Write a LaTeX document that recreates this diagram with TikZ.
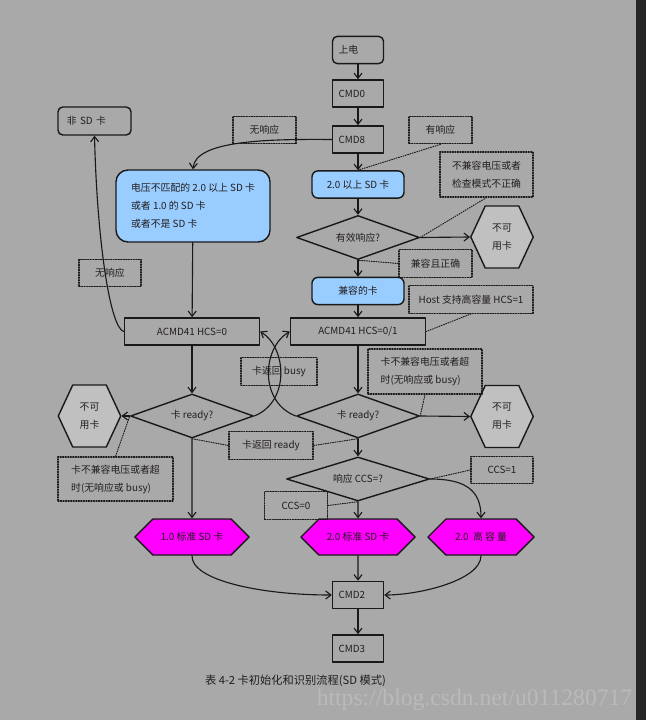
\documentclass[tikz,border=0pt]{standalone}
\usepackage{fontspec}
\setmainfont{Noto Sans CJK SC}
\newfontfamily\wmfont{Liberation Serif}
\usetikzlibrary{shapes.geometric,shapes.symbols,arrows.meta}

\definecolor{fondogris}{RGB}{169,169,169}
\definecolor{bordeoscuro}{RGB}{38,38,38}
\definecolor{trazo}{RGB}{25,25,25}
\definecolor{texto}{RGB}{35,30,30}
\definecolor{tarjetaazul}{RGB}{153,204,255}
\definecolor{hexgris}{RGB}{192,192,192}
\definecolor{tipomagenta}{RGB}{255,0,255}
\definecolor{marcaagua}{RGB}{186,186,186}

\begin{document}
\begin{tikzpicture}[x=0.025cm,y=-0.025cm,line cap=round,line join=round,
    font=\fontsize{7}{12.8}\selectfont,
    paso/.style={draw=trazo,line width=1pt,text=texto},
    cmdbox/.style={paso,text width=9.75mm,inner xsep=1.5mm,align=left,
        minimum height=6.8mm},
    inicio/.style={cmdbox,rounded corners=1.2mm},
    acmd/.style={paso,minimum width=33.75mm,minimum height=6.8mm},
    azul/.style={paso,fill=tarjetaazul,rounded corners=1.5mm,
        minimum width=23mm,minimum height=6.8mm},
    pregunta/.style={paso,diamond,aspect=2.8,inner sep=0pt,
        minimum width=30.75mm,minimum height=11mm},
    inutil/.style={paso,fill=hexgris,signal,signal to=east and west,
        signal pointer angle=130,minimum width=15.6mm,minimum height=15.5mm,
        align=left},
    tipo/.style={paso,fill=tipomagenta,signal,signal to=east and west,
        signal pointer angle=90,minimum width=28.5mm,minimum height=9mm},
    nota/.style={draw=trazo,densely dotted,line width=0.8pt,text=texto,
        minimum height=6.9mm,align=left},
    flujo/.style={draw=trazo,line width=0.8pt,
        -{Straight Barb[length=1.3mm,width=2mm]}},
    guia/.style={draw=trazo,densely dotted,line width=0.7pt}]
    \def\xL{192}
    \def\xR{358}

    \useasboundingbox (0,0) rectangle (646,720);
    \fill[fondogris] (0,0) rectangle (636,720);
    \fill[bordeoscuro] (636,0) rectangle (646,720);

    % Columna principal
    \node[inicio] (pwr) at (\xR,50) {上电};
    \node[cmdbox] (cmd0) at (\xR,93.5) {CMD0};
    \node[cmdbox] (cmd8) at (\xR,139.5) {CMD8};
    \node[azul] (sd2) at (\xR,184.5) {2.0 以上 SD 卡};
    \node[pregunta] (vresp) at (\xR,237.5) {有效响应?};
    \node[azul] (compat) at (\xR,291) {兼容的卡};
    \node[acmd] (acmdB) at (\xR,331.5) {ACMD41 HCS=0/1};
    \node[pregunta] (rdyB) at (\xR,416) {卡 ready?};
    \node[pregunta,minimum width=35.75mm] (ccs) at (\xR,479) {响应 CCS=?};
    \node[tipo] (std2) at (\xR,537) {2.0 标准 SD 卡};
    \node[cmdbox] (cmd2) at (\xR,595) {CMD2};
    \node[cmdbox] (cmd3) at (\xR,648.5) {CMD3};

    % Columna izquierda
    \node[inicio,text width=13.75mm,inner xsep=2.25mm,minimum height=7mm]
        (nonsd) at (94.5,121) {非 SD 卡};
    \node[azul,minimum width=38.5mm,minimum height=18mm,
        rounded corners=3mm,align=left] (mismatch) at (193,206)
        {电压不匹配的 2.0 以上 SD 卡\\或者 1.0 的 SD 卡\\或者不是 SD 卡};
    \node[acmd] (acmdA) at (\xL,331.5) {ACMD41 HCS=0};
    \node[pregunta] (rdyA) at (\xL,416) {卡 ready?};
    \node[tipo] (v1) at (\xL,537) {1.0 标准 SD 卡};

    % Tarjetas no utilizables y de alta capacidad
    \node[inutil] (badTop) at (502,237) {不可\\用卡};
    \node[inutil] (badA) at (89.5,416) {不可\\用卡};
    \node[inutil] (badB) at (502,416.5) {不可\\用卡};
    \node[tipo,minimum width=26.5mm] (hi) at (481,537) {2.0\ \ 高 容 量};

    % Notas punteadas
    \node[nota,minimum width=15.75mm] (noresp1) at (264.5,130) {无响应};
    \node[nota,minimum width=15.75mm] (yresp) at (440.5,130) {有响应};
    \node[nota,minimum width=23.25mm,minimum height=11.25mm] (incomp)
        at (486.5,174.5) {不兼容电压或者\\检查模式不正确};
    \node[nota,minimum width=18.25mm] (ok) at (435.5,263.5) {兼容且正确};
    \node[nota,minimum width=31mm] (host) at (471,299.5) {Host 支持高容量 HCS=1};
    \node[nota,minimum width=19mm] (busy) at (279,371.5) {卡返回 busy};
    \node[nota,minimum width=28.5mm,minimum height=11.25mm] (tmoB)
        at (425,371.5) {卡不兼容电压或者超\\时(无响应或 busy)};
    \node[nota,minimum width=21mm] (rdyok) at (271,445.5) {卡返回 ready};
    \node[nota,minimum width=28.75mm,minimum height=11mm] (tmoA)
        at (115.5,479) {卡不兼容电压或者超\\时(无响应或 busy)};
    \node[nota,minimum width=15.5mm] (noresp2) at (110,273) {无响应};
    \node[nota,minimum width=15.5mm,minimum height=6.6mm] (ccs1)
        at (502,470) {CCS=1};
    \node[nota,minimum width=15.75mm] (ccs0) at (296,505.5) {CCS=0};

    % Flechas del flujo
    \draw[flujo] (pwr) -- (cmd0);
    \draw[flujo] (cmd0) -- (cmd8);
    \draw[flujo] (cmd8) -- (sd2);
    \draw[flujo] (sd2) -- (vresp);
    \draw[flujo] (vresp) -- (compat);
    \draw[flujo] (compat) -- (acmdB);
    \draw[flujo] (acmdB) -- (rdyB);
    \draw[flujo] (rdyB) -- (ccs);
    \draw[flujo] (ccs) -- (std2);
    \draw[flujo] (std2) -- (cmd2);
    \draw[flujo] (cmd2) -- (cmd3);
    \draw[flujo] (vresp.east) -- (badTop.west);
    \draw[flujo] (rdyB.east) -- (badB.west);
    \draw[flujo] (rdyA.west) -- (badA.east);
    \draw[flujo] (mismatch) -- (acmdA);
    \draw[flujo] (acmdA) -- (rdyA);
    \draw[flujo] (rdyA) -- (v1);

    % Conexiones curvas
    \draw[flujo] (cmd8.west) .. controls (270,139) and (195,140) .. (mismatch.north);
    \draw[flujo] (acmdA.west) .. controls (110,328) and (97,240) .. (nonsd.south);
    \draw[flujo] (rdyA.east) .. controls (290,402) and (287,348) .. (acmdA.east);
    \draw[flujo] (rdyB.west) .. controls (259,402) and (262,348) .. (acmdB.west);
    \draw[flujo] (ccs.east) .. controls (465,479) and (481,490) .. (hi.north);
    \draw[flujo] (v1.south) .. controls (191,580) and (260,595) .. (cmd2.west);
    \draw[flujo] (hi.south) .. controls (481,580) and (420,595) .. (cmd2.east);

    % Lineas guia de las notas
    \draw[guia] (yresp.south) -- (sd2.north);
    \draw[guia] (incomp.south) -- (vresp.east);
    \draw[guia] (ok.west) -- (vresp.south);
    \draw[guia] (host.south) -- (acmdB.east);
    \draw[guia] (tmoB.south) -- (rdyB.east);
    \draw[guia] (rdyok.west) -- (rdyA.south);
    \draw[guia] (rdyok.east) -- (rdyB.south);
    \draw[guia] (tmoA.north) -- (rdyA.west);
    \draw[guia] (ccs1.west) -- (ccs.east);
    \draw[guia] (ccs0.east) -- (ccs.south);

    % Pie y marca de agua
    \node[text=texto,font=\fontsize{8}{10}\selectfont] (caption) at (295.5,681)
        {表 4-2 卡初始化和识别流程(SD 模式)};
    \node[text=marcaagua,font=\wmfont\fontsize{16.8}{18}\selectfont] (wmark)
        at (474.5,700) {https://blog.csdn.net/u011280717};
\end{tikzpicture}
\end{document}
